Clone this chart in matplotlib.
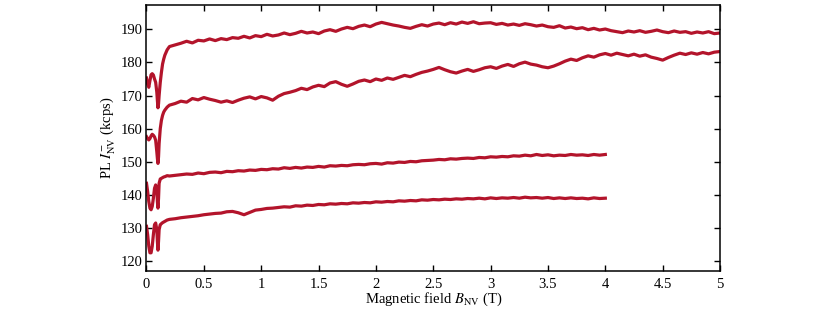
import matplotlib.pyplot as plt
import numpy as np

plt.rcParams['font.family'] = ['Liberation Serif', 'DejaVu Serif']
plt.rcParams['mathtext.fontset'] = 'stix'

# low-field part (0 - 0.2 T), hand read
x_low = [0.00, 0.01, 0.02, 0.03, 0.04, 0.05, 0.06, 0.07, 0.08, 0.09, 0.095,
         0.10, 0.105, 0.11, 0.12, 0.13, 0.14, 0.15, 0.16, 0.18, 0.20]
s1_low = [175.3, 173.5, 172.5, 174.5, 176.3, 176.6, 176.2, 175.0, 174.0, 171.0, 168.5,
          166.3, 167.5, 170.0, 174.0, 177.0, 179.5, 181.0, 182.2, 183.8, 184.8]
s2_low = [157.6, 157.0, 156.6, 157.0, 157.8, 158.3, 158.0, 157.5, 156.5, 153.0, 151.0,
          149.5, 151.5, 155.5, 160.0, 162.5, 164.0, 165.0, 165.6, 166.5, 167.1]
s3_low = [143.5, 141.0, 138.0, 136.0, 135.5, 136.5, 139.0, 142.0, 143.0, 141.5, 138.0,
          136.0, 139.0, 143.5, 144.8, 145.0, 145.2, 145.4, 145.5, 145.8, 145.7]
s4_low = [130.5, 128.0, 124.5, 122.5, 122.5, 124.5, 128.0, 131.0, 131.5, 129.5, 126.0,
          123.3, 126.0, 129.5, 131.0, 131.3, 131.6, 131.8, 132.0, 132.4, 132.6]

# main part, every 0.05 T from 0.25 T
x_hi = np.round(np.arange(0.25, 5.0001, 0.05), 2)
s1_hi = [185.3, 185.8, 186.4, 185.9, 186.7, 186.5, 187.1, 186.6, 187.2, 186.9,
         187.5, 187.3, 187.9, 187.4, 188.1, 187.8, 188.5, 188.0, 188.3, 188.9,
         188.4, 188.8, 189.4, 188.9, 189.2, 188.7, 189.5, 189.9, 189.4, 190.1,
         190.6, 190.2, 190.9, 191.3, 190.8, 191.6, 192.1, 191.7, 191.3, 191.0,
         190.6, 190.3, 190.9, 191.4, 191.0, 191.6, 191.9, 191.4, 192.0, 191.6,
         192.2, 191.8, 192.3, 191.7, 191.9, 192.0, 191.5, 191.8, 191.3, 191.6,
         191.2, 191.7, 191.4, 191.0, 191.3, 190.8, 190.6, 191.1, 190.4, 190.7,
         190.2, 190.5, 189.9, 190.3, 189.8, 190.1, 189.6, 189.3, 189.0, 189.5,
         189.2, 189.6, 189.1, 189.4, 189.8, 189.3, 189.0, 189.5, 189.1, 189.3,
         188.8, 189.2, 188.9, 189.3, 188.7, 188.9]
s2_hi = [167.6, 168.3, 168.0, 169.1, 168.7, 169.4, 168.9, 168.5, 168.0, 168.4,
         167.9, 168.6, 169.2, 169.6, 169.0, 169.7, 169.3, 168.6, 169.8, 170.6,
         171.0, 171.5, 172.2, 171.8, 172.6, 173.1, 172.7, 173.8, 174.2, 173.4,
         172.8, 173.5, 174.3, 174.7, 174.2, 175.0, 174.6, 175.3, 174.9, 175.5,
         176.1, 175.7, 176.4, 177.0, 177.4, 177.9, 178.5, 177.8, 177.2, 176.8,
         177.4, 177.9, 177.3, 177.8, 178.4, 178.7, 178.2, 178.9, 179.4, 178.8,
         179.6, 180.1, 179.5, 179.2, 178.7, 178.4, 178.9, 179.6, 180.4, 181.0,
         180.6, 181.4, 182.0, 181.6, 182.3, 182.7, 182.2, 182.8, 182.4, 182.0,
         182.5, 181.9, 182.3, 181.6, 181.2, 180.7, 181.5, 182.2, 182.8, 182.4,
         182.9, 182.5, 183.0, 182.6, 183.1, 183.3]
s3_hi = [145.9, 146.1, 146.3, 146.2, 146.6, 146.4, 146.8, 146.9, 146.7, 147.1,
         147.0, 147.3, 147.2, 147.5, 147.4, 147.7, 147.6, 147.9, 147.8, 148.2,
         148.0, 148.3, 148.1, 148.4, 148.3, 148.6, 148.4, 148.8, 148.7, 148.9,
         148.8, 149.1, 149.2, 149.1, 149.4, 149.5, 149.3, 149.7, 149.6, 149.9,
         149.8, 150.1, 150.0, 150.3, 150.4, 150.5, 150.7, 150.6, 150.9, 150.8,
         151.0, 151.1, 151.0, 151.3, 151.2, 151.5, 151.4, 151.6, 151.5, 151.8,
         151.7, 152.0, 151.8, 152.2, 151.9, 152.1, 151.8, 152.0, 151.9, 152.2,
         152.0, 152.1, 151.9, 152.2, 152.0, 152.2]
s4_hi = [132.8, 133.1, 133.3, 133.5, 133.7, 134.0, 134.2, 134.4, 134.5, 134.9,
         135.0, 134.6, 134.0, 134.7, 135.4, 135.6, 135.9, 136.0, 136.2, 136.4,
         136.3, 136.7, 136.6, 136.9, 136.8, 137.1, 137.0, 137.3, 137.2, 137.4,
         137.3, 137.6, 137.5, 137.7, 137.6, 137.9, 137.8, 138.0, 137.9, 138.2,
         138.1, 138.3, 138.2, 138.5, 138.4, 138.6, 138.5, 138.7, 138.6, 138.8,
         138.7, 138.9, 138.8, 139.0, 138.8, 139.1, 138.9, 139.1, 139.0, 139.2,
         139.0, 139.3, 139.1, 139.2, 139.0, 139.2, 138.9, 139.1, 138.9, 139.1,
         138.9, 139.0, 138.8, 139.1, 138.9, 139.0]

xticks = [0, 0.5, 1, 1.5, 2, 2.5, 3, 3.5, 4, 4.5, 5]
xticklabels = ['0', '0.5', '1', '1.5', '2', '2.5', '3', '3.5', '4', '4.5', '5']
yticks = [120, 130, 140, 150, 160, 170, 180, 190]

color = '#b3142b'

fig = plt.figure(figsize=(8.3, 3.12), dpi=100)
ax = fig.add_axes([0.1765, 0.1324, 0.691, 0.851])

for lo, hi in [(s1_low, s1_hi), (s2_low, s2_hi), (s3_low, s3_hi), (s4_low, s4_hi)]:
    x = np.concatenate([x_low, x_hi[:len(hi)]])
    y = np.concatenate([lo, hi])
    ax.plot(x, y, color=color, lw=2.3, solid_joinstyle='round')

ax.set_xlim(0, 5)
ax.set_ylim(117.1, 197.3)
ax.set_xticks(xticks)
ax.set_xticklabels(xticklabels)
ax.set_yticks(yticks)
ax.tick_params(direction='in', top=True, right=True, length=4, width=1,
               labelsize=10.5)
ax.tick_params(axis='y', pad=2.5)
ax.tick_params(axis='x', pad=5)
for sp in ax.spines.values():
    sp.set_linewidth(1.1)

ax.set_xlabel(r'Magnetic field $B_{\mathrm{NV}}$ (T)', fontsize=10.5, labelpad=0)
ax.set_ylabel(r'PL $I^{-}_{\mathrm{NV}}$ (kcps)', fontsize=10.5, labelpad=2)

fig.savefig('out.png', dpi=100)
plt.close(fig)
